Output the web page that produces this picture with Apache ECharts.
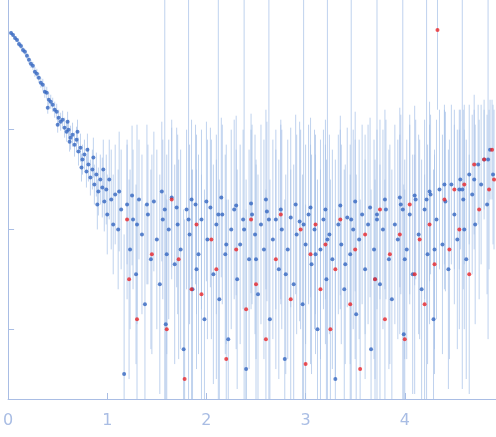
<!DOCTYPE html>
<html>
<head>
<meta charset="utf-8">
<script src="https://cdn.jsdelivr.net/npm/echarts@6/dist/echarts.min.js"></script>
<style>html,body{margin:0;padding:0;background:#fff}#chart{width:496px;height:437px}</style>
</head>
<body>
<div id="chart"></div>
<script>
// [s, log10(I), log error half-width]
let blue_low = [
  [0.03,0.97,0.02],[0.05,0.95,0.02],[0.07,0.92,0.02],[0.09,0.90,0.02],[0.11,0.86,0.03],[0.13,0.84,0.03],[0.15,0.80,0.03],[0.17,0.78,0.03],
  [0.19,0.74,0.03],[0.21,0.70,0.04],[0.23,0.66,0.04],[0.25,0.64,0.04],[0.27,0.58,0.05],[0.29,0.56,0.05],[0.31,0.52,0.05],[0.33,0.47,0.05],
  [0.35,0.45,0.06],[0.37,0.38,0.06],[0.39,0.37,0.06],[0.41,0.30,0.07],[0.43,0.28,0.07],[0.45,0.25,0.07],[0.47,0.20,0.08],[0.49,0.18,0.08],
  [0.51,0.12,0.08],[0.53,0.08,0.09],[0.55,0.10,0.09],[0.57,0.02,0.1],[0.59,-0.02,0.1],[0.61,0.0,0.1],[0.63,-0.08,0.12],[0.65,-0.05,0.12],
  [0.67,-0.15,0.12],[0.69,-0.10,0.13],[0.71,-0.22,0.14],[0.73,-0.18,0.14],[0.75,-0.30,0.15],[0.77,-0.25,0.15],[0.79,-0.42,0.16],[0.81,-0.35,0.17],
  [0.83,-0.48,0.18],[0.85,-0.40,0.2],[0.87,-0.55,0.2],[0.89,-0.45,0.22],[0.91,-0.62,0.24],[0.93,-0.50,0.25],[0.95,-0.58,0.3],[0.97,-0.72,0.3],
  [0.99,-0.60,0.35],[0.4,0.22,0.06],[0.5,0.05,0.08],[0.6,0.08,0.1],[0.62,-0.12,0.1],[0.7,-0.02,0.12],[0.74,-0.38,0.14],[0.8,-0.2,0.16],
  [0.86,-0.28,0.2],[0.9,-0.75,0.25],[0.96,-0.4,0.3],[1.0,-0.85,0.4],[1.02,-0.5,0.4],[1.04,-0.7,0.5],[1.06,-0.95,0.5]
];
let blue_high = [
  [1.08,-0.65,0.5],[1.11,-1.0,0.6],[1.14,-0.8,0.6],[1.17,-2.45,1.4],[1.2,-0.75,0.6],[1.23,-1.2,0.8],[1.26,-0.9,0.7],[1.29,-1.45,0.9],
  [1.32,-0.7,0.6],[1.35,-1.05,0.8],[1.38,-1.75,1.0],[1.41,-0.85,0.7],[1.44,-1.3,0.9],[1.47,-0.72,0.7],[1.5,-1.1,0.9],[1.53,-1.55,1.1],
  [1.56,-0.9,0.8],[1.59,-1.95,1.3],[1.62,-1.0,0.9],[1.65,-0.68,0.7],[1.68,-1.35,1.0],[1.71,-0.95,0.9],[1.74,-1.2,1.0],[1.77,-2.2,1.4],
  [1.8,-0.8,0.8],[1.83,-1.05,0.9],[1.86,-1.6,1.2],[1.89,-0.75,0.8],[1.92,-1.25,1.0],[1.95,-0.9,0.9],[1.98,-1.9,1.3],[2.01,-1.1,1.0],
  [2.04,-0.78,0.8],[2.07,-1.45,1.1],[2.1,-0.95,0.9],[2.13,-1.7,1.2],[2.16,-0.85,0.9],[2.19,-1.25,1.0],[2.22,-2.1,1.4],[2.25,-1.0,1.0],
  [2.28,-0.8,0.9],[2.31,-1.5,1.1],[2.34,-1.15,1.0],[2.37,-0.9,0.9],[2.4,-2.4,1.6],[2.43,-1.3,1.1],[2.46,-0.85,0.9],[2.49,-1.05,1.0],
  [2.52,-1.65,1.2],[2.55,-0.95,1.0],[2.58,-1.2,1.1],[2.61,-0.82,0.9],[2.64,-1.9,1.4],[2.67,-1.1,1.0],[2.7,-0.9,0.9],[2.73,-1.4,1.1],
  [2.76,-1.0,1.0],[2.79,-2.3,1.6],[2.82,-1.2,1.1],[2.85,-0.88,0.9],[2.88,-1.55,1.2],[2.91,-1.05,1.0],[2.94,-0.92,1.0],[2.97,-1.75,1.3],
  [3.0,-1.15,1.0],[3.03,-0.85,0.9],[3.06,-1.35,1.1],[3.09,-1.0,1.0],[3.12,-2.0,1.5],[3.15,-1.2,1.1],[3.18,-0.9,0.9],[3.21,-1.5,1.2],
  [3.24,-1.05,1.0],[3.27,-1.3,1.1],[3.3,-2.5,1.7],[3.33,-0.95,0.9],[3.36,-1.15,1.0],[3.39,-1.6,1.2],[3.42,-0.88,0.9],[3.45,-1.25,1.1],
  [3.48,-1.0,1.0],[3.51,-1.85,1.4],[3.54,-1.1,1.0],[3.57,-0.85,0.9],[3.6,-1.4,1.1],[3.63,-0.95,1.0],[3.66,-2.2,1.6],[3.69,-1.2,1.1],
  [3.72,-0.9,0.9],[3.75,-1.55,1.2],[3.78,-1.0,1.0],[3.81,-0.8,0.9],[3.84,-1.3,1.1],[3.87,-1.7,1.3],[3.9,-0.95,1.0],[3.93,-1.1,1.0],
  [3.96,-0.75,0.9],[3.99,-2.05,1.5],[4.02,-1.2,1.1],[4.05,-0.85,0.9],[4.08,-1.45,1.2],[4.11,-0.7,0.8],[4.14,-1.05,1.0],[4.17,-1.6,1.3],
  [4.2,-0.8,0.9],[4.23,-1.25,1.1],[4.26,-0.65,0.8],[4.29,-1.9,1.5],[4.32,-0.9,1.0],[4.35,-0.6,0.8],[4.38,-1.15,1.1],[4.41,-0.72,0.9],
  [4.44,-1.4,1.2],[4.47,-0.55,0.8],[4.5,-0.85,0.9],[4.53,-1.1,1.1],[4.56,-0.5,0.7],[4.59,-0.7,0.9],[4.62,-1.3,1.2],[4.65,-0.45,0.7],
  [4.68,-0.65,0.8],[4.71,-0.95,1.0],[4.74,-0.35,0.6],[4.77,-0.55,0.8],[4.8,-0.3,0.5],[4.83,-0.75,0.9],[4.86,-0.2,0.5],[4.89,-0.45,0.7],
  [1.12,-0.62,0.6],[1.25,-0.66,0.7],[1.4,-0.75,0.8],[1.55,-0.62,0.7],[1.7,-0.78,0.8],[1.85,-0.7,0.8],[2.0,-0.72,0.8],[2.15,-0.68,0.8],
  [2.3,-0.76,0.9],[2.45,-0.74,0.9],[2.6,-0.7,0.9],[2.75,-0.8,0.9],[2.9,-0.75,0.9],[3.05,-0.78,0.9],[3.2,-0.8,0.9],[3.35,-0.76,0.9],
  [3.5,-0.72,0.9],[3.65,-0.78,0.9],[3.8,-0.7,0.9],[3.95,-0.68,0.9],[4.1,-0.66,0.9],[4.25,-0.62,0.9],[4.4,-0.55,0.8],[4.55,-0.6,0.8],
  [4.7,-0.5,0.7],[1.3,-0.95,1.0],[1.6,-1.25,1.0],[1.9,-1.4,1.0],[2.2,-1.15,1.0],[2.5,-1.3,1.0],[2.8,-1.45,1.0],[3.1,-1.25,1.0],
  [3.4,-1.35,1.0],[3.7,-1.5,1.0],[4.0,-1.3,1.0],[4.3,-1.2,1.0],[4.6,-1.0,1.0],
  [1.58,-0.8,2.3],[1.82,-0.9,2.4],[2.12,-0.85,2.5],[2.38,-1.0,2.4],[2.63,-0.9,2.6],[2.98,-0.95,2.5],[3.22,-1.1,2.6],[3.46,-0.9,2.5],
  [3.72,-0.85,2.4],[3.98,-0.8,2.3],[4.22,-0.7,2.2],[4.58,-0.6,2.0],[4.84,-0.3,1.8]
];
let red_pts = [
  [1.2,-0.9,0.8],[1.22,-1.5,1.0],[1.3,-1.9,1.2],[1.45,-1.25,1.0],[1.6,-2.0,1.3],[1.65,-0.7,0.8],[1.72,-1.3,1.0],[1.78,-2.5,1.6],
  [1.85,-1.6,1.2],[1.9,-0.95,0.9],[1.95,-1.65,1.2],[2.05,-1.1,1.0],[2.1,-1.4,1.1],[2.2,-2.3,1.6],[2.3,-1.2,1.0],[2.4,-1.8,1.3],
  [2.45,-0.9,0.9],[2.5,-1.55,1.2],[2.6,-2.1,1.5],[2.7,-1.3,1.1],[2.75,-0.85,0.9],[2.85,-1.7,1.3],[2.95,-1.0,1.0],[3.0,-2.35,1.6],
  [3.05,-1.25,1.1],[3.1,-0.95,0.9],[3.15,-1.6,1.2],[3.2,-1.15,1.0],[3.25,-2.0,1.5],[3.3,-1.4,1.1],[3.35,-0.9,0.9],[3.45,-1.75,1.3],
  [3.5,-1.2,1.1],[3.55,-2.4,1.7],[3.6,-1.05,1.0],[3.7,-1.5,1.2],[3.75,-0.8,0.9],[3.8,-1.9,1.4],[3.85,-1.25,1.1],[3.95,-1.05,1.0],
  [4.0,-2.1,1.5],[4.05,-0.75,0.9],[4.1,-1.45,1.2],[4.15,-1.1,1.0],[4.2,-1.75,1.3],[4.25,-0.95,1.0],[4.3,-1.35,1.1],[4.33,1.0,0.8],
  [4.4,-0.7,0.9],[4.45,-1.2,1.1],[4.5,-0.6,0.8],[4.55,-1.0,1.0],[4.6,-0.55,0.8],[4.65,-1.45,1.2],[4.7,-0.35,0.7],[4.75,-0.8,0.9],
  [4.8,-0.3,0.6],[4.85,-0.6,0.8],[4.88,-0.2,0.5],[4.9,-0.5,0.7]
];
let y_ticks = [-2, -1, 0];

let Chart_saxs = echarts.init(document.getElementById('chart'));

let blue_pts = blue_low.concat(blue_high);
let all_pts = blue_pts.concat(red_pts);
let err_data = all_pts.map(p => [p[0], p[1] - p[2], p[1] + p[2]]);
let axisCol = '#a9bde4';

option = {
  animation: false,
  grid: { left: 4, right: 0, top: 0, bottom: 38 },
  xAxis: {
    type: 'value', min: 0, max: 4.92, interval: 1,
    axisLine: { onZero: false, lineStyle: { color: axisCol } },
    axisTick: { inside: true, length: 6, lineStyle: { color: axisCol } },
    axisLabel: { color: axisCol, fontSize: 16, fontFamily: 'DejaVu Sans', margin: 14, showMaxLabel: false },
    splitLine: { show: false }
  },
  yAxis: {
    type: 'value', min: -2.7, max: 1.3,
    axisLine: { show: true, onZero: false, lineStyle: { color: axisCol } },
    axisTick: { show: true, inside: true, length: 6, customValues: y_ticks, lineStyle: { color: axisCol } },
    axisLabel: { show: false },
    splitLine: { show: false }
  },
  series: [
    {
      type: 'custom',
      clip: true,
      data: err_data,
      renderItem: function (params, api) {
        let a = api.coord([api.value(0), api.value(1)]);
        let b = api.coord([api.value(0), api.value(2)]);
        return { type: 'line', shape: { x1: a[0], y1: a[1], x2: b[0], y2: b[1] },
          style: { stroke: 'rgba(170,195,232,0.75)', lineWidth: 1 } };
      },
      z: 1
    },
    { type: 'scatter', data: blue_pts.map(p => [p[0], p[1]]), symbolSize: 4,
      itemStyle: { color: '#3566c0' }, z: 3 },
    { type: 'scatter', data: red_pts.map(p => [p[0], p[1]]), symbolSize: 4,
      itemStyle: { color: '#e8262a' }, z: 4 }
  ]
};
Chart_saxs.setOption(option);
</script>
</body>
</html>
